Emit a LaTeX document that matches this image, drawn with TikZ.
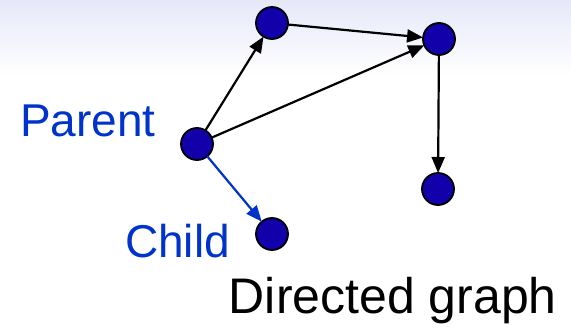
\documentclass[tikz,border=0pt]{standalone}
\usepackage{fontspec}
\setmainfont{Liberation Sans}
\usetikzlibrary{arrows.meta}
\definecolor{vertexfill}{RGB}{18,0,170}
\definecolor{linkblue}{RGB}{0,51,204}
\definecolor{skytint}{RGB}{230,232,249}
\begin{document}
\begin{tikzpicture}[x=1pt,y=-1pt,
  vertex/.style={circle,draw=black,line width=1.8pt,fill=vertexfill,minimum size=32pt,inner sep=0pt,outer sep=0pt},
  edge/.style={line width=2.2pt,-{Triangle[length=16pt,width=13pt]}},
  label/.style={inner sep=0pt,font=\fontsize{46}{46}\selectfont}]
  % canvas with a faint tint fading out at the top
  \fill[white] (0,0) rectangle (571,334);
  \shade[top color=skytint,bottom color=white] (0,0) rectangle (571,75);
  \useasboundingbox (0,0) rectangle (571,334);
  % vertices
  \node[vertex] (a) at (272,23) {};
  \node[vertex] (b) at (439,39) {};
  \node[vertex] (p) at (197,144) {};
  \node[vertex] (d) at (438,189) {};
  \node[vertex] (c) at (272,234) {};
  % edges
  \draw[edge] (p) -- (a);
  \draw[edge] (p) -- (b);
  \draw[edge] (a) -- (b);
  \draw[edge] (b) -- (d);
  \draw[edge,draw=linkblue,fill=linkblue] (p) -- (c);
  % labels
  \node[label,text=linkblue,anchor=base west] (parent) at (20,137) {Parent};
  \node[label,text=linkblue,anchor=base west] (child) at (125,258) {Child};
  \node[label,font=\fontsize{50}{50}\selectfont,anchor=base east] (title) at (557,313) {Directed graph};
\end{tikzpicture}
\end{document}
